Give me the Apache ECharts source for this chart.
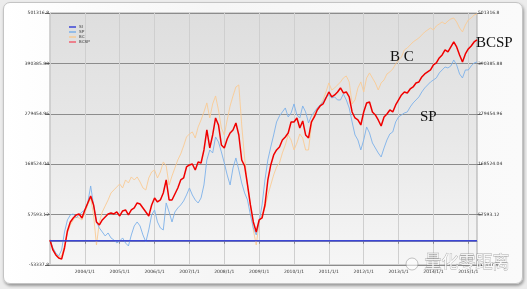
<!DOCTYPE html>
<html><head><meta charset="utf-8">
<script src="https://cdn.jsdelivr.net/npm/echarts@6/dist/echarts.min.js"></script>
<style>
html,body{margin:0;padding:0;background:#ececec;width:527px;height:289px;overflow:hidden;}
#frame{position:absolute;left:3px;top:2px;width:518px;height:280px;border-radius:7px;border:1px solid #c4c4c4;background:linear-gradient(90deg,#ffffff,#f6f6f6 40%,#fafafa);box-shadow:1px 2px 3px rgba(0,0,0,0.35);}
#chart{position:absolute;left:0;top:0;width:527px;height:289px;}
</style></head>
<body><div id="frame"></div><div id="chart"></div>
<script>
// monthly categories 2003/1 .. 2015/4
const startYear = 2003, monthCount = 148;
const categories = [];
for (let i = 0; i < monthCount; i++) {
  const y = startYear + Math.floor(i / 12), m = (i % 12) + 1;
  categories.push(y + '/' + m + '/1');
}
const yTicks = { min: -53337.8, max: 501316.8, step: 110930.92 };
const seriesNames = ['SI', 'SP', 'BC', 'BCSP'];
const baselineValues = [0, 0];

const bcsp = [1760,-20250,-31255,-37858,-40059,-15848,21569,41378,50182,56785,58986,50182,
67790,83197,98604,78795,41378,34775,45780,52383,58986,61187,58986,63388,
54584,65589,67790,56785,67790,72192,83197,80996,72192,63388,54584,78795,
94202,85398,89800,105207,133820,89800,89800,103006,116212,133820,138222,162433,
166835,169036,155830,173438,171237,199850,243870,204252,232865,270282,254875,210855,
204252,224061,237267,243870,259277,232865,177840,164634,122815,78795,41378,19368,
45780,50182,78795,133820,166835,188845,199850,206453,221860,228463,237267,261478,
261478,270282,248272,263679,232865,226262,261478,272483,287890,296694,301096,314302,
327508,316503,320905,327508,336312,325307,327508,316503,283488,270282,265880,254875,
283488,303297,305498,283488,276885,265880,252674,272483,279086,287890,283488,298895,
309900,320905,327508,325307,334111,338513,347317,349518,360523,367126,371528,375930,
386935,391337,402342,408945,419950,415548,426553,437558,426553,408945,393538,411146,
422151,428754,437558,441960];

const bc = [1760,-15848,-29054,-35657,-33456,-9245,17167,34775,45780,52383,50182,45780,
61187,78795,94202,56785,-9245,41378,63388,76594,89800,105207,111810,118413,
125016,116212,133820,127217,140423,133820,140423,129418,116212,111810,138222,151428,
155830,138222,151428,173438,164634,122815,142624,160232,177840,191046,208654,228463,
235066,239468,226262,250473,265880,283488,303297,270282,301096,318704,287890,248272,
232865,265880,296694,318704,338513,342915,254875,182242,122815,78795,23770,-9245,
41378,56785,72192,100805,122815,144825,162433,171237,193247,210855,232865,221860,
199850,215257,235066,226262,199850,199850,254875,281287,290091,298895,309900,327508,
347317,331910,336312,342915,349518,358322,362724,349518,301096,309900,336312,349518,
327508,358322,369327,358322,347317,331910,347317,353920,367126,371528,378131,389136,
397940,404543,419950,424352,430955,437558,441960,446362,452965,459568,463970,468372,
463970,472774,477176,481578,477176,483779,488181,490382,481578,468372,459568,474975,
485980,490382,496985,499186];

const sp = [1760,-15848,-26853,-33456,-20250,19368,45780,56785,58986,50182,56785,63388,
67790,83197,120614,78795,41378,28172,19368,10564,17167,6162,1760,-4843,
-441,6162,-4843,-11446,12765,32574,41378,32574,12765,-2642,23770,56785,
67790,41378,28172,23770,83197,63388,41378,63388,72192,78795,87599,100805,
116212,100805,89800,83197,94202,122815,177840,199850,193247,228463,217458,195448,
171237,144825,122815,160232,182242,155830,127217,105207,89800,56785,28172,12765,
41378,78795,133820,177840,206453,232865,261478,274684,283488,292292,272483,281287,
301096,276885,270282,296694,283488,259277,274684,283488,292292,298895,305498,316503,
320905,314302,316503,309900,309900,323106,309900,292292,261478,232865,221860,199850,
221860,250473,237267,215257,204252,193247,184443,204252,221860,235066,239468,261478,
272483,276885,281287,283488,294493,303297,309900,316503,327508,336312,342915,349518,
353920,358322,369327,375930,382533,380332,384734,397940,386935,367126,358322,375930,
375930,384734,391337,393538];

const chart = echarts.init(document.getElementById('chart'), null, {renderer: 'canvas'});
const yearIdx = (i) => i % 12 === 0;
const fmt = (v) => String(Number(v.toFixed(2)));
const yAxisBase = {
  type: 'value', min: yTicks.min, max: yTicks.max, interval: yTicks.step,
  axisLine: {show: false},
  axisTick: {show: true, length: 5, lineStyle: {color: '#777', width: 1}},
  axisLabel: {fontSize: 4.5, color: '#333', margin: 1, formatter: fmt, fontFamily: 'DejaVu Sans'},
  splitLine: {show: true, lineStyle: {color: '#8c8c8c', width: 1}}
};
chart.setOption({
  animation: false,
  backgroundColor: 'transparent',
  grid: {
    left: 50, right: 50, top: 13, bottom: 24, show: true,
    borderColor: '#a8a8a8', borderWidth: 1,
    backgroundColor: {type: 'linear', x: 0, y: 0, x2: 0, y2: 1,
      colorStops: [{offset: 0, color: '#dedede'}, {offset: 0.5, color: '#e8e8e8'}, {offset: 1, color: '#f6f6f6'}]}
  },
  legend: {
    data: seriesNames, orient: 'vertical', left: 64, top: 20, itemGap: 1,
    icon: 'rect', itemWidth: 7, itemHeight: 1.5,
    textStyle: {fontSize: 4, color: '#333', padding: [0, 0, 0, -2]}
  },
  xAxis: {
    type: 'category', data: categories, boundaryGap: false,
    axisLine: {show: true, lineStyle: {color: '#999'}},
    axisTick: {show: true, interval: yearIdx, length: 3, lineStyle: {color: '#888'}},
    axisLabel: {interval: (i) => i % 12 === 0 && i > 0, fontSize: 4.5, color: '#333', margin: 4, fontFamily: 'DejaVu Sans'},
    splitLine: {show: true, interval: yearIdx, lineStyle: {color: '#cfcfcf', width: 1}}
  },
  yAxis: [
    Object.assign({}, yAxisBase, {position: 'left'}),
    Object.assign({}, yAxisBase, {position: 'right', splitLine: {show: false}})
  ],
  series: [
    {name: 'SI', type: 'line', showSymbol: false, symbol: 'none', z: 5,
     data: [[categories[0], baselineValues[0]], [categories[monthCount - 1], baselineValues[1]]],
     lineStyle: {color: '#3b45d6', width: 1.5}, itemStyle: {color: '#3b45d6'}},
    {name: 'SP', type: 'line', showSymbol: false, symbol: 'none', z: 3, data: sp,
     lineStyle: {color: '#7db1ea', width: 0.9}, itemStyle: {color: '#7db1ea'}},
    {name: 'BC', type: 'line', showSymbol: false, symbol: 'none', z: 2, data: bc,
     lineStyle: {color: '#f9cb94', width: 0.9}, itemStyle: {color: '#f9cb94'}},
    {name: 'BCSP', type: 'line', showSymbol: false, symbol: 'none', z: 4, data: bcsp,
     lineStyle: {color: '#f00000', width: 1.5}, itemStyle: {color: '#f06070'}}
  ],
  graphic: [
    {type: 'text', left: 390, top: 50, z: 100, style: {text: 'B C', font: '15px "Liberation Serif"', fill: '#111'}},
    {type: 'text', left: 420, top: 110, z: 100, style: {text: 'SP', font: '15px "Liberation Serif"', fill: '#111'}},
    {type: 'text', left: 476, top: 36, z: 100, style: {text: 'BCSP', font: '15px "Liberation Serif"', fill: '#111'}},
    {type: 'text', left: 424, top: 253, z: 100, style: {text: '量化零距离', font: '17px "Noto Sans CJK SC"', fill: 'rgba(255,255,255,0.85)', stroke: 'rgba(120,120,120,0.6)', lineWidth: 0.8}},
    {type: 'circle', shape: {cx: 412, cy: 264, r: 6}, z: 100, style: {fill: 'rgba(255,255,255,0.6)', stroke: 'rgba(130,130,130,0.6)', lineWidth: 0.8}}
  ]
});
</script></body></html>
